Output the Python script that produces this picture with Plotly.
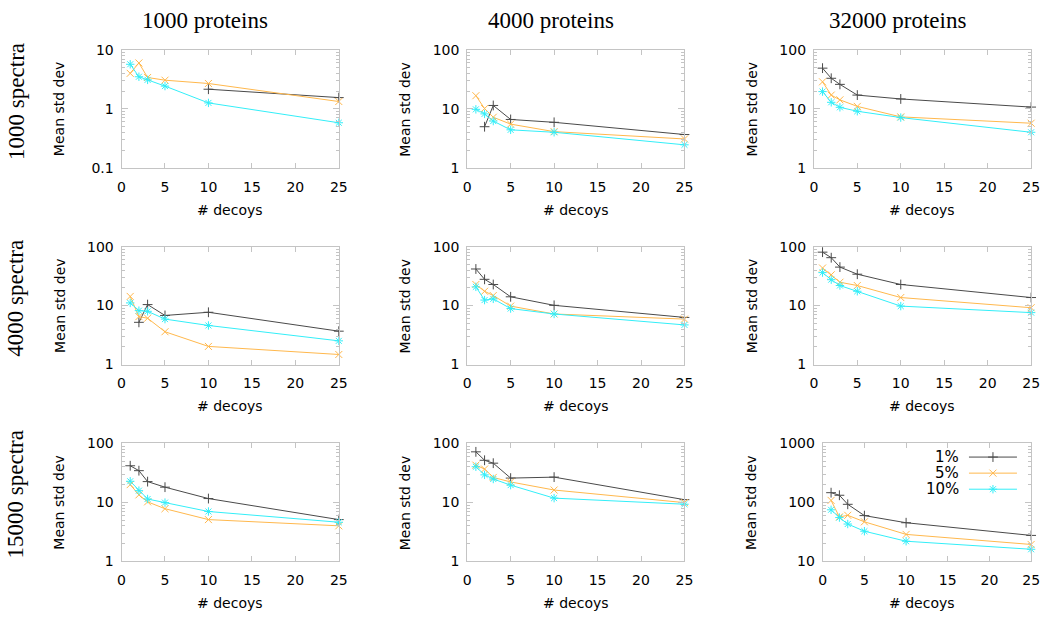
import math
import plotly.graph_objects as go

decoys = [1, 2, 3, 5, 10, 25]
series_names = ["1%", "5%", "10%"]
col_titles = ["1000 proteins", "4000 proteins", "32000 proteins"]
row_titles = ["1000 spectra", "4000 spectra", "15000 spectra"]

# row: spectra, col: proteins ; values per series (1%, 5%, 10%)
s1000_p1000_1 = [None, None, None, None, 2.15, 1.55]
s1000_p1000_5 = [4.0, 6.0, 3.4, 3.06, 2.69, 1.33]
s1000_p1000_10 = [5.7, 3.5, 3.1, 2.43, 1.26, 0.58]

s1000_p4000_1 = [None, 4.97, 11.4, 6.6, 5.9, 3.66]
s1000_p4000_5 = [16.7, 10.1, 7.2, 5.5, 4.1, 3.08]
s1000_p4000_10 = [9.8, 8.2, 6.2, 4.4, 4.0, 2.45]

s1000_p32000_1 = [49, 33, 26, 17.1, 14.7, 10.7]
s1000_p32000_5 = [28.7, 17.1, 14.2, 11.0, 7.3, 5.7]
s1000_p32000_10 = [19.6, 12.9, 10.6, 9.1, 7.1, 4.0]

s4000_p1000_1 = [None, 5.2, 10.4, 6.8, 7.7, 3.68]
s4000_p1000_5 = [14.3, 6.5, 6.1, 3.6, 2.03, 1.48]
s4000_p1000_10 = [11.1, 8.2, 8.0, 5.9, 4.6, 2.52]

s4000_p4000_1 = [41.8, 27.9, 22.8, 14.1, 10.1, 6.3]
s4000_p4000_5 = [22.8, 17.5, 14.8, 9.8, 7.2, 5.9]
s4000_p4000_10 = [20.8, 12.4, 13.0, 8.9, 7.2, 4.7]

s4000_p32000_1 = [80.7, 65, 45, 34.1, 22.8, 13.7]
s4000_p32000_5 = [43.4, 33.3, 24.9, 21.9, 13.7, 9.2]
s4000_p32000_10 = [36.3, 27.5, 21.9, 17.5, 9.8, 7.6]

s15000_p1000_1 = [41.8, 34.5, 22.5, 18.1, 11.6, 5.1]
s15000_p1000_5 = [20.0, 13.4, 10.2, 7.8, 5.1, 4.0]
s15000_p1000_10 = [22.8, 15.8, 11.4, 9.9, 7.0, 4.6]

s15000_p4000_1 = [72, 51.8, 46.2, 25.8, 26.8, 11.1]
s15000_p4000_5 = [42.8, 36.8, 26.5, 22.2, 16.2, 9.9]
s15000_p4000_10 = [40.2, 29.3, 24.9, 19.6, 11.8, 9.3]

s15000_p32000_1 = [146, 132, 92.7, 59.6, 45.1, 27.5]
s15000_p32000_5 = [108, 56.6, 60.3, 46.8, 28.6, 19.3]
s15000_p32000_10 = [74.8, 55.2, 42.9, 32.4, 21.9, 16.0]

panels = [
    [(s1000_p1000_1, s1000_p1000_5, s1000_p1000_10),
     (s1000_p4000_1, s1000_p4000_5, s1000_p4000_10),
     (s1000_p32000_1, s1000_p32000_5, s1000_p32000_10)],
    [(s4000_p1000_1, s4000_p1000_5, s4000_p1000_10),
     (s4000_p4000_1, s4000_p4000_5, s4000_p4000_10),
     (s4000_p32000_1, s4000_p32000_5, s4000_p32000_10)],
    [(s15000_p1000_1, s15000_p1000_5, s15000_p1000_10),
     (s15000_p4000_1, s15000_p4000_5, s15000_p4000_10),
     (s15000_p32000_1, s15000_p32000_5, s15000_p32000_10)],
]
y_ranges = [
    [(0.1, 10), (1, 100), (1, 100)],
    [(1, 100), (1, 100), (1, 100)],
    [(1, 100), (1, 100), (10, 1000)],
]

colors = ["#4a4a4a", "#ffb84d", "#33eef8"]
symbols = ["cross-thin", "x-thin", "asterisk"]

W, H = 1050, 618


def px(x):
    return x / W


def py(y):
    return 1 - y / H


col_x = [(119, 339), (469, 689), (820, 1040)]
row_y = [(43, 164), (245, 366), (447, 568)]
frame = "#c4c4c4"
tickfont = dict(family="DejaVu Sans", size=14, color="black")

fig = go.Figure()
layout = dict(width=W, height=H, margin=dict(l=0, r=0, t=0, b=0),
              paper_bgcolor="white", plot_bgcolor="white", showlegend=True)
annotations = []
legend_names = ["legend", "legend2", "legend3"]

for r in range(3):
    for c in range(3):
        idx = r * 3 + c + 1
        xa = "x" if idx == 1 else f"x{idx}"
        ya = "y" if idx == 1 else f"y{idx}"
        x0, x1 = col_x[c]
        if r == 2 and c == 2:
            x0 = 829
        y0, y1 = row_y[r]
        lo, hi = y_ranges[r][c]
        for k in range(3):
            fig.add_trace(go.Scatter(
                x=decoys, y=panels[r][c][k], mode="lines+markers",
                name=" ", xaxis=xa, yaxis=ya, cliponaxis=False,
                line=dict(color=colors[k], width=1),
                marker=dict(symbol=symbols[k], size=7, color=colors[k],
                            line=dict(color=colors[k], width=1)),
                showlegend=(r == 2 and c == 2), legend=legend_names[k],
            ))
        klo, khi = int(round(math.log10(lo))), int(round(math.log10(hi)))
        majors = [10 ** e for e in range(klo, khi + 1)]
        minors = [m * 10 ** e for e in range(klo, khi) for m in range(2, 10)]
        labels = [("%g" % v) for v in majors]
        layout["xaxis" if idx == 1 else f"xaxis{idx}"] = dict(
            domain=[px(x0), px(x1)], anchor=ya, range=[0, 25],
            tickvals=[0, 5, 10, 15, 20, 25], ticks="inside", ticklen=5,
            tickcolor=frame, showline=True, linecolor=frame, linewidth=1,
            mirror="allticks", showgrid=False, zeroline=False, tickfont=tickfont,
            ticklabelstandoff=6,
        )
        layout["yaxis" if idx == 1 else f"yaxis{idx}"] = dict(
            domain=[py(y1), py(y0)], anchor=xa, type="log",
            range=[math.log10(lo), math.log10(hi)],
            tickvals=majors, ticktext=labels, ticks="inside", ticklen=6,
            tickcolor=frame, showline=True, linecolor=frame, linewidth=1,
            mirror="allticks", showgrid=False, zeroline=False, tickfont=tickfont,
            minor=dict(tickvals=minors, ticks="inside", ticklen=3, tickcolor=frame),
            ticklabelstandoff=4,
        )
        annotations.append(dict(text="Mean std dev", xref="paper", yref="paper",
                                x=px(x0 - 63 if not (r == 2 and c == 2) else x0 - 72),
                                y=py((y0 + y1) / 2), textangle=-90,
                                showarrow=False, font=tickfont,
                                xanchor="center", yanchor="middle"))
        annotations.append(dict(text="# decoys", xref="paper", yref="paper",
                                x=px((col_x[c][0] + col_x[c][1]) / 2),
                                y=py(y1 + 43), showarrow=False, font=tickfont,
                                xanchor="center", yanchor="middle"))

title_font = dict(family="Liberation Serif", size=23, color="black")
for c, t in enumerate(col_titles):
    annotations.append(dict(text=t, xref="paper", yref="paper",
                            x=px(col_x[c][0] + 85), y=py(13),
                            showarrow=False, font=title_font,
                            xanchor="center", yanchor="middle"))
for r, t in enumerate(row_titles):
    annotations.append(dict(text=t, xref="paper", yref="paper",
                            x=px(12), y=py((row_y[r][0] + row_y[r][1]) / 2 - 8),
                            textangle=-90, showarrow=False, font=title_font,
                            xanchor="center", yanchor="middle"))

legend_rows = [461, 477.5, 494]
for k, name in enumerate(series_names):
    annotations.append(dict(text=name, xref="paper", yref="paper",
                            x=px(969), y=py(legend_rows[k]),
                            showarrow=False, font=dict(family="DejaVu Sans", size=15, color="black"),
                            xanchor="right", yanchor="middle"))
    layout[legend_names[k]] = dict(x=px(972), y=py(legend_rows[k]), xanchor="left",
                                   yanchor="middle", bgcolor="rgba(0,0,0,0)",
                                   borderwidth=0, itemwidth=48,
                                   font=dict(family="DejaVu Sans", size=10))

layout["annotations"] = annotations
fig.update_layout(**layout)
fig.write_html("out.html", config={"displayModeBar": False},
               post_script="document.body.style.margin='0';")
